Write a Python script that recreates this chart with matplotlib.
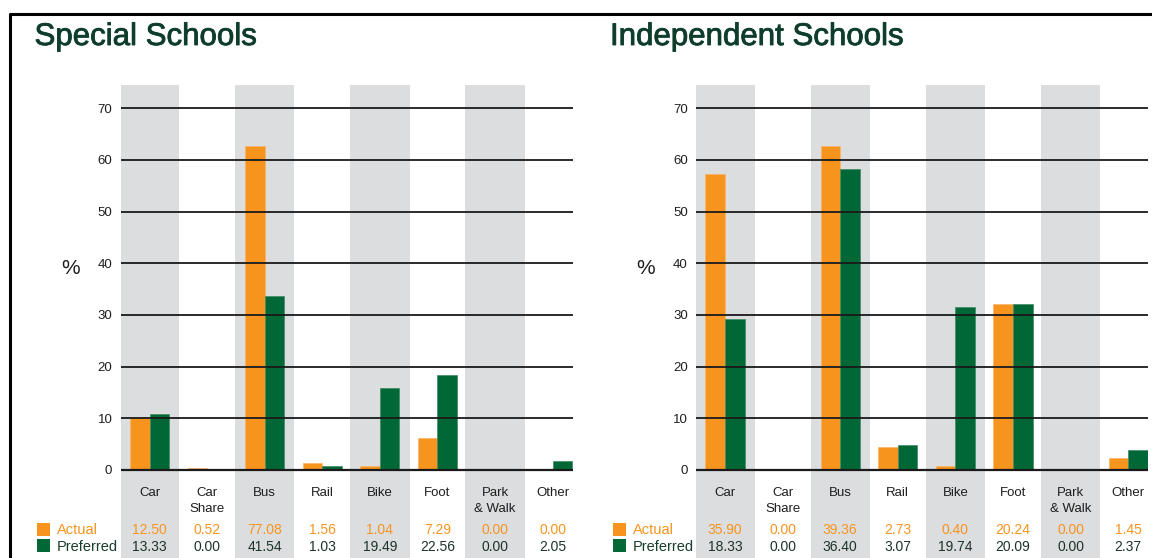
"""Travel mode: actual vs preferred, special and independent schools."""
import matplotlib
matplotlib.use('Agg')
import matplotlib.pyplot as plt
import matplotlib.patheffects as pe
from matplotlib.lines import Line2D
from matplotlib.patches import Rectangle
import numpy as np

plt.rcParams['font.family'] = ['Liberation Sans', 'DejaVu Sans']

modes = ['Car', 'Car\nShare', 'Bus', 'Rail', 'Bike', 'Foot', 'Park\n& Walk', 'Other']

# bar heights as drawn in the picture
special_actual_bars = [10.0, 0.45, 62.8, 1.3, 0.8, 6.1, 0.0, 0.0]
special_preferred_bars = [10.8, 0.0, 33.7, 0.8, 15.8, 18.3, 0.0, 1.75]
indep_actual_bars = [57.2, 0.0, 62.8, 4.5, 0.8, 32.1, 0.0, 2.25]
indep_preferred_bars = [29.3, 0.0, 58.2, 4.8, 31.5, 32.1, 0.0, 3.9]

# table values printed under the bars
special_actual_txt = ['12.50', '0.52', '77.08', '1.56', '1.04', '7.29', '0.00', '0.00']
special_preferred_txt = ['13.33', '0.00', '41.54', '1.03', '19.49', '22.56', '0.00', '2.05']
indep_actual_txt = ['35.90', '0.00', '39.36', '2.73', '0.40', '20.24', '0.00', '1.45']
indep_preferred_txt = ['18.33', '0.00', '36.40', '3.07', '19.74', '20.09', '0.00', '2.37']

yticks = [0, 10, 20, 30, 40, 50, 60, 70]

ORANGE = '#f7941e'
GREEN = '#006837'
BAND = '#dcdddf'
TITLE = '#0f3d2b'
TEXT = '#1e1e1e'

W, H = 1152, 558
fig = plt.figure(figsize=(W / 100, H / 100), dpi=100)

# pixel geometry
cat_px = 57.6
zero_px = 470.0
unit_px = (470.0 - 108.3) / 70.0
top_px = 85.0
x_hi = 7.35
y_lo = -(H - zero_px) / unit_px
y_hi = (zero_px - top_px) / unit_px


def py(p):
    """pixel row -> data y"""
    return (zero_px - p) / unit_px


def panel(left_center_px, title, actual, preferred, act_txt, pref_txt):
    left_px = left_center_px - 0.5 * cat_px
    width_px = (x_hi + 0.5) * cat_px
    ax = fig.add_axes([left_px / W, 0, width_px / W, (H - top_px) / H])
    ax.set_xlim(-0.5, x_hi)
    ax.set_ylim(y_lo, y_hi)
    for s in ax.spines.values():
        s.set_visible(False)
    ax.set_xticks([])
    ax.set_yticks(yticks)
    ax.tick_params(axis='y', length=0, pad=6, labelsize=9.5, labelcolor=TEXT)

    x = np.arange(len(modes))
    for i in x[::2]:
        ax.add_patch(Rectangle((i - 0.515, y_lo), 1.03, y_hi - y_lo,
                               facecolor=BAND, edgecolor='none', zorder=0))
    for v in yticks:
        ax.plot([-0.5, x_hi], [v, v], color='#1a1a1a', lw=1.3 if v else 1.6,
                zorder=3, solid_capstyle='butt')
    bw = 0.34
    ax.bar(x - bw / 2, actual, bw, color=ORANGE, zorder=2,
           edgecolor='#f9b46a', linewidth=0.5)
    ax.bar(x + bw / 2, preferred, bw, color=GREEN, zorder=2,
           edgecolor='#3f8a62', linewidth=0.5)

    for i, m in enumerate(modes):
        ax.text(i, py(487.5), m, ha='center', va='top', fontsize=9.5,
                color=TEXT, linespacing=1.35)
        ax.text(i, py(530), act_txt[i], ha='center', va='center',
                fontsize=10, color=ORANGE)
        ax.text(i, py(547), pref_txt[i], ha='center', va='center',
                fontsize=10, color='#1c3328')

    fig.text((left_center_px - 79) / W, 1 - 268 / H, '%', ha='center',
             va='center', fontsize=15, color=TEXT)
    fig.text((left_center_px - 115) / W, 1 - 37 / H, title, ha='left',
             va='center', fontsize=22.5, color=TITLE,
             path_effects=[pe.withStroke(linewidth=0.6, foreground=TITLE)])

    sq = left_center_px - 112.5
    fig.add_artist(Rectangle((sq / W, 1 - 536 / H), 13 / W, 13 / H,
                             facecolor=ORANGE, edgecolor='none',
                             transform=fig.transFigure))
    fig.add_artist(Rectangle((sq / W, 1 - 552 / H), 13 / W, 13 / H,
                             facecolor=GREEN, edgecolor='none',
                             transform=fig.transFigure))
    fig.text((sq + 20) / W, 1 - 530 / H, 'Actual', ha='left', va='center',
             fontsize=10.5, color=ORANGE)
    fig.text((sq + 20) / W, 1 - 547 / H, 'Preferred', ha='left', va='center',
             fontsize=10.5, color='#173d2b')
    return ax


panel(149.5, 'Special Schools', special_actual_bars, special_preferred_bars,
      special_actual_txt, special_preferred_txt)
panel(725.0, 'Independent Schools', indep_actual_bars, indep_preferred_bars,
      indep_actual_txt, indep_preferred_txt)

# outer frame (top and left edges visible)
fig.add_artist(Line2D([9.5 / W, 9.5 / W, 1.0], [0, 1 - 14 / H, 1 - 14 / H],
                      color='black', lw=2.2, transform=fig.transFigure))

fig.savefig('out.png', dpi=100)
